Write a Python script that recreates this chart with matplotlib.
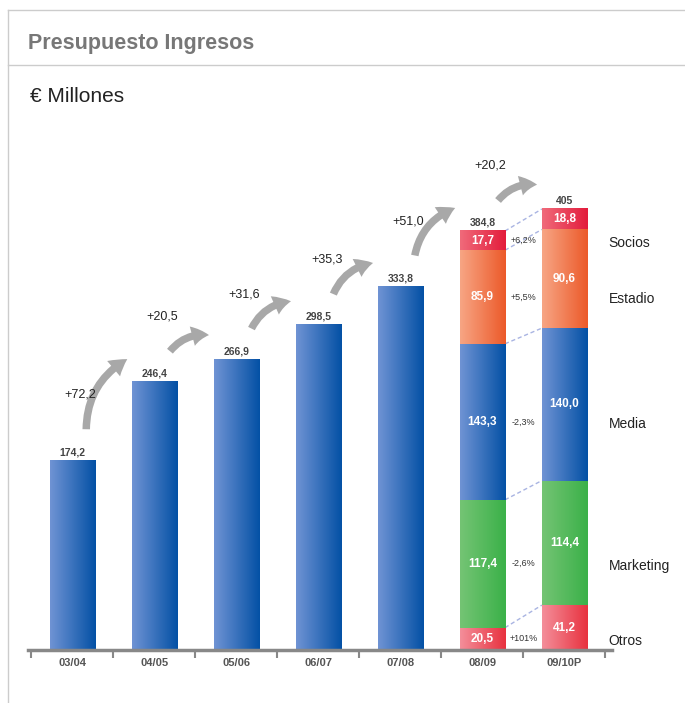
import numpy as np
import matplotlib
matplotlib.use('Agg')
import matplotlib.pyplot as plt
from matplotlib.colors import LinearSegmentedColormap
from matplotlib.lines import Line2D

plt.rcParams['font.family'] = ['Liberation Sans', 'DejaVu Sans']

# data
cats = ['03/04', '04/05', '05/06', '06/07', '07/08', '08/09', '09/10P']
totals = [174.2, 246.4, 266.9, 298.5, 333.8, 384.8, 405.0]
total_labels = ['174,2', '246,4', '266,9', '298,5', '333,8', '384,8', '405']
deltas = ['+72,2', '+20,5', '+31,6', '+35,3', '+51,0', '+20,2']
# stacked breakdown, bottom -> top
seg_names = ['Otros', 'Marketing', 'Media', 'Estadio', 'Socios']
seg_0809 = [20.5, 117.4, 143.3, 85.9, 17.7]
seg_0910 = [41.2, 114.4, 140.0, 90.6, 18.8]
seg_lab_0809 = ['20,5', '117,4', '143,3', '85,9', '17,7']
seg_lab_0910 = ['41,2', '114,4', '140,0', '90,6', '18,8']
seg_change = ['+101%', '-2,6%', '-2,3%', '+5,5%', '+6,2%']

blue = ('#6f93d4', '#0451a5')
seg_cols = [('#f48e9a', '#e8323f'), ('#74c474', '#3bb149'), blue,
            ('#f7a584', '#ec5a2a'), ('#f06a7a', '#e31c3c')]

W, H = 685, 703
fig = plt.figure(figsize=(W/100, H/100), dpi=100)
ax = fig.add_axes([28/W, (H-650)/H, (612-28)/W, (650-160)/H])
xlim = (-0.54, 6.58)
ylim = (0, 450)
bw = 0.55

def grad_bar(x, bottom, h, c):
    cmap = LinearSegmentedColormap.from_list('g', list(c))
    g = np.linspace(0, 1, 64).reshape(1, -1)
    ax.imshow(g, extent=[x-bw/2, x+bw/2, bottom, bottom+h], aspect='auto',
              cmap=cmap, zorder=2, interpolation='bicubic')

# single bars
for i in range(5):
    grad_bar(i, 0, totals[i], blue)

# stacked bars
for xi, segs in [(5, seg_0809), (6, seg_0910)]:
    b = 0
    for s, c in zip(segs, seg_cols):
        grad_bar(xi, b, s, c)
        b += s

# total labels
for i in range(7):
    ax.text(i, totals[i]+3, total_labels[i], ha='center', va='bottom',
            fontsize=7.5, fontweight='bold', color='#444444')

# segment labels
c1 = np.cumsum([0]+seg_0809)
c2 = np.cumsum([0]+seg_0910)
for k in range(5):
    ax.text(5, (c1[k]+c1[k+1])/2, seg_lab_0809[k], ha='center', va='center',
            fontsize=8.5, fontweight='bold', color='white', zorder=3)
    ax.text(6, (c2[k]+c2[k+1])/2, seg_lab_0910[k], ha='center', va='center',
            fontsize=8.5, fontweight='bold', color='white', zorder=3)
    ax.text(5.5, (c1[k]+c1[k+1])/2, seg_change[k], ha='center', va='center',
            fontsize=6.5, color='#333333')
    ax.text(6.54, (c1[k]+c1[k+1])/2 - 2, seg_names[k], ha='left', va='center',
            fontsize=10, color='#222222', clip_on=False)
# dashed connectors
for k in range(1, 6):
    ax.plot([5+bw/2, 6-bw/2], [c1[k], c2[k]], ls=(0, (3, 2)), lw=1,
            color='#a9b4e2', zorder=1)

# growth arrows
for i in range(6):
    ax.annotate('', xy=(i+0.7, totals[i+1]+22), xytext=(i+0.17, totals[i]+26),
                arrowprops=dict(arrowstyle='simple,head_width=1.2,head_length=1.0,tail_width=0.45',
                                fc='#a8a8a8', ec='none',
                                connectionstyle='arc3,rad=-0.3', mutation_scale=12))
    ax.text(i+0.1, totals[i]+60, deltas[i], ha='center', va='center',
            fontsize=9, color='#222222')

ax.set_xlim(xlim)
ax.set_ylim(ylim)
ax.set_xticks(range(7))
ax.set_xticklabels(cats, fontsize=8, fontweight='bold', color='#555555')
ax.set_xticks(np.arange(-0.5, 7, 1), minor=True)
ax.tick_params(axis='x', which='major', length=0, pad=6)
ax.tick_params(axis='x', which='minor', length=6, width=1.5, color='#888888', direction='out')
ax.set_yticks([])
for sp in ['top', 'right', 'left']:
    ax.spines[sp].set_visible(False)
ax.spines['bottom'].set_color('#888888')
ax.spines['bottom'].set_linewidth(2.5)

# frame and header
fig.add_artist(Line2D([8/W, 1], [1-10/H, 1-10/H], color='#cccccc', lw=1))
fig.add_artist(Line2D([8/W, 8/W], [0, 1-10/H], color='#cccccc', lw=1))
fig.add_artist(Line2D([8/W, 1], [1-65/H, 1-65/H], color='#cccccc', lw=1))
fig.text(28/W, 1-43/H, 'Presupuesto Ingresos', fontsize=15.5, fontweight='bold',
         color='#777777', va='center')
fig.text(30/W, 1-97/H, '€ Millones', fontsize=15, color='#222222', va='center')

plt.savefig('out.png', dpi=100)
